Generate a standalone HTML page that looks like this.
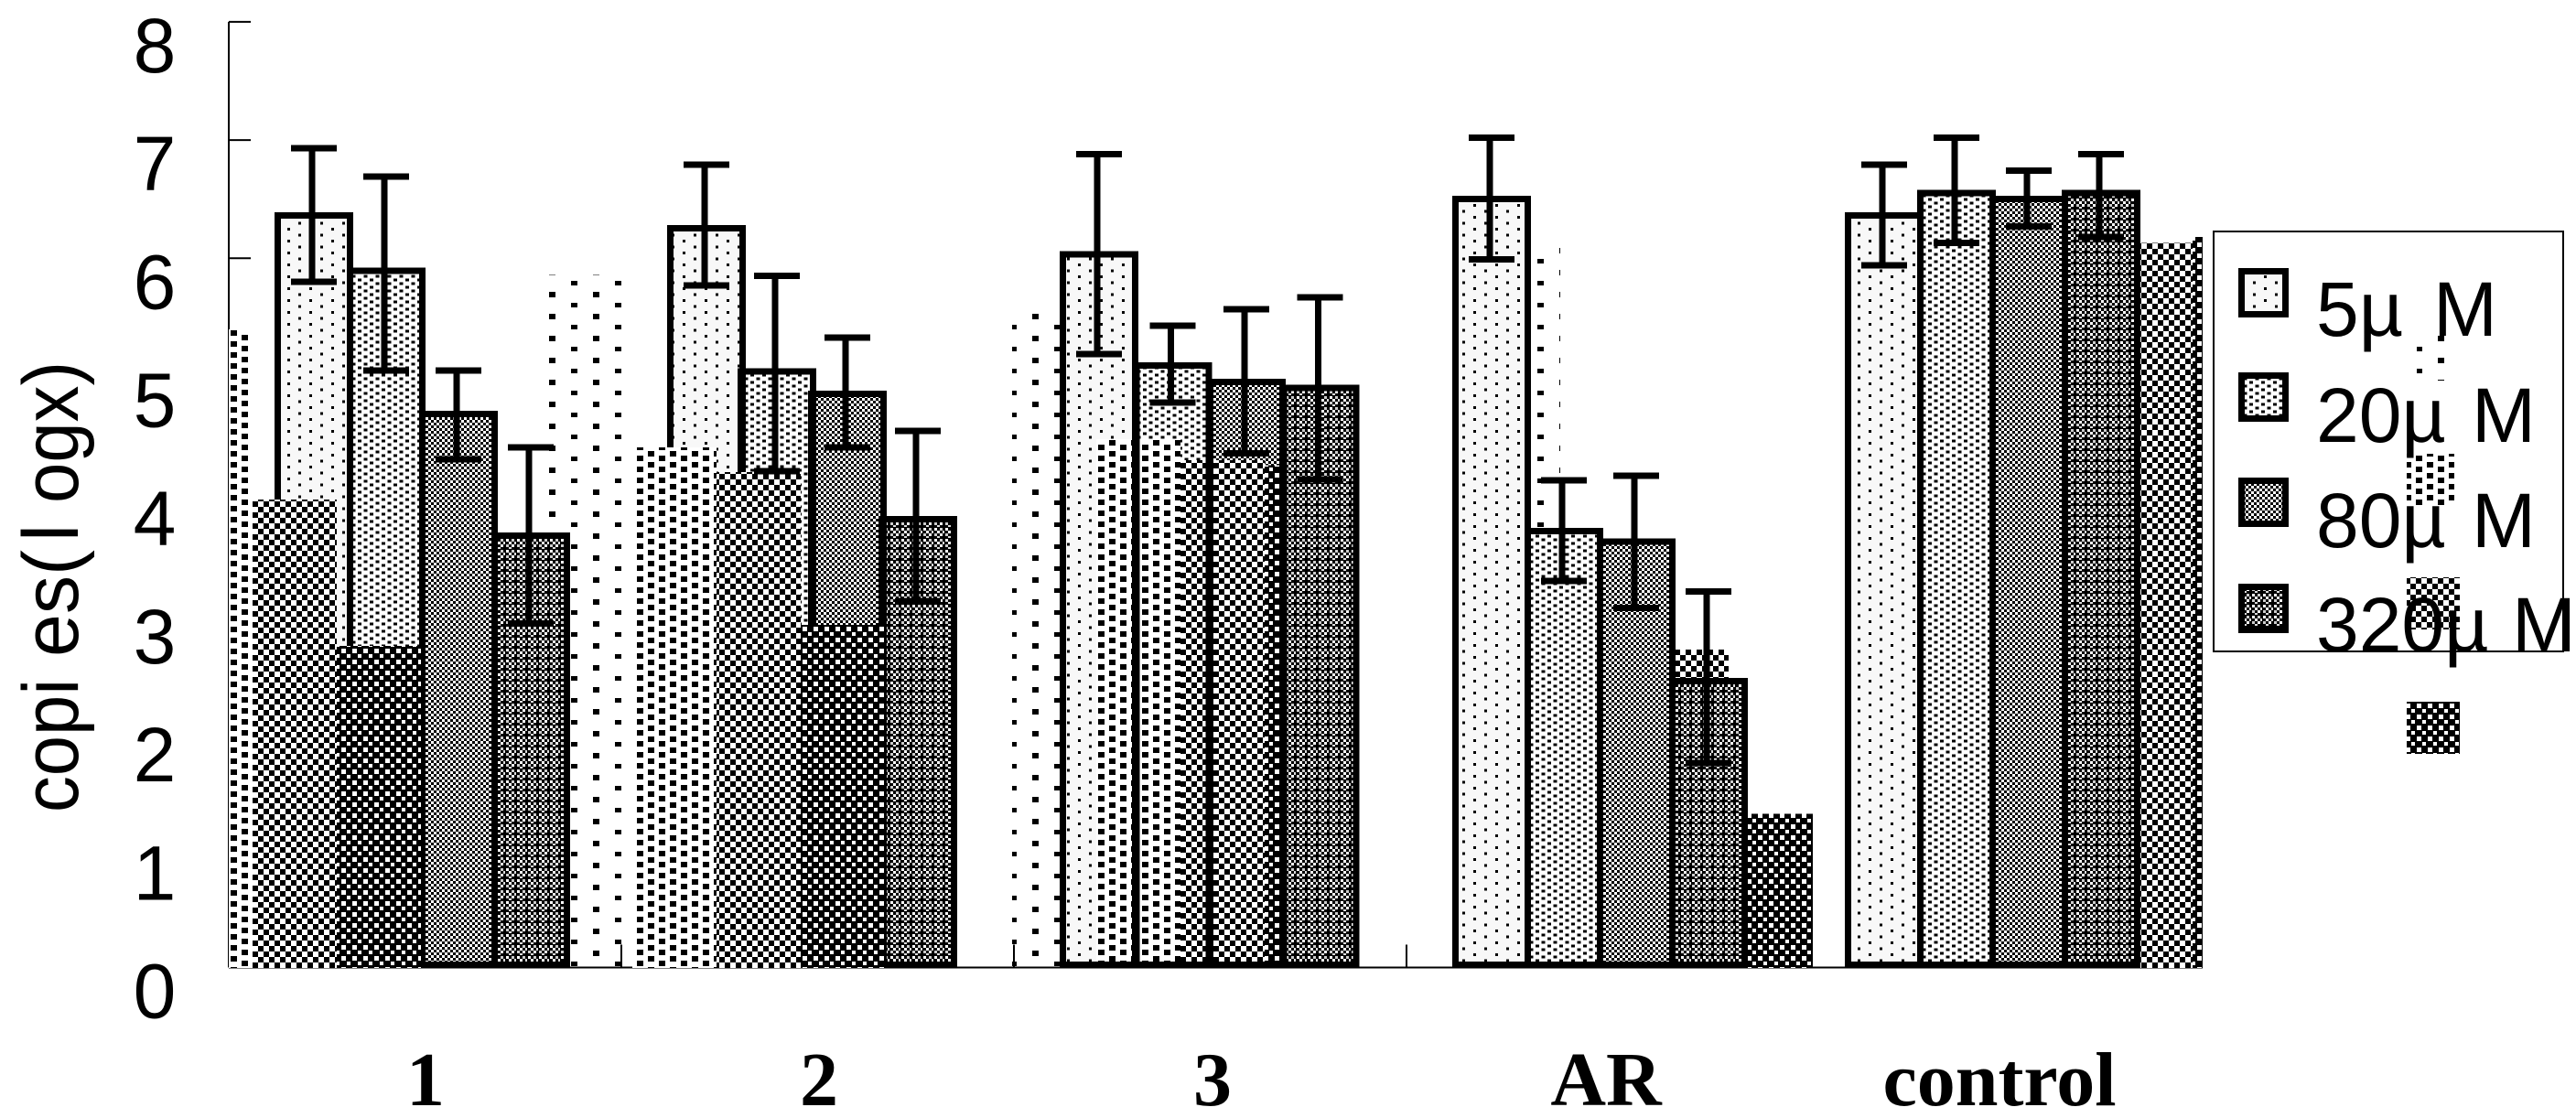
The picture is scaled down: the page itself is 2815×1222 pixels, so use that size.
<!DOCTYPE html>
<html lang="en">
<head>
<meta charset="utf-8">
<title>Copies (log x) by compound and concentration</title>
<style>
html,body{margin:0;padding:0;background:#fff;}
svg{display:block;}
text{fill:#000;}
.sans{font-family:"Liberation Sans","DejaVu Sans",sans-serif;font-size:84px;}
.serif{font-family:"Liberation Serif","DejaVu Serif",serif;font-size:84px;font-weight:bold;}
</style>
</head>
<body>
<svg id="chart" xmlns="http://www.w3.org/2000/svg" width="2815" height="1222" viewBox="0 0 2815 1222">
<defs>
<pattern id="p-outline-a" patternUnits="userSpaceOnUse" width="24" height="13"><rect width="24" height="13" fill="#f8f8f8"/><rect x="2" y="2" width="3" height="3" fill="#000"/><rect x="14" y="8.5" width="3" height="3" fill="#000"/></pattern>
<pattern id="p-outline-b" patternUnits="userSpaceOnUse" width="13" height="8"><rect width="13" height="8" fill="#fff"/><rect x="1" y="0.5" width="4" height="3" fill="#000"/><rect x="7.5" y="4.5" width="4" height="3" fill="#000"/></pattern>
<pattern id="p-outline-c" patternUnits="userSpaceOnUse" width="6" height="6"><rect width="6" height="6" fill="#fff"/><rect width="3" height="3" fill="#000"/><rect x="3" y="3" width="3" height="3" fill="#000"/></pattern>
<pattern id="p-outline-d" patternUnits="userSpaceOnUse" width="12" height="12"><rect width="12" height="12" fill="#000"/><rect x="1" y="1" width="3" height="3" fill="#fff"/><rect x="7" y="1" width="3" height="3" fill="#ccc"/><rect x="4" y="4" width="3" height="3" fill="#fff"/><rect x="10" y="4" width="2" height="3" fill="#ddd"/><rect x="1" y="7" width="3" height="3" fill="#ccc"/><rect x="7" y="7" width="3" height="3" fill="#fff"/><rect x="4" y="10" width="3" height="2" fill="#ddd"/></pattern>
<pattern id="p-sparse" patternUnits="userSpaceOnUse" width="48" height="24"><rect x="24" y="7" width="7" height="6" fill="#000"/><rect x="0" y="19" width="7" height="5" fill="#000"/></pattern>
<pattern id="p-dense" patternUnits="userSpaceOnUse" width="24" height="12"><rect width="24" height="12" fill="#fff"/><rect x="0" y="6" width="7" height="6" fill="#000"/><rect x="12" y="1" width="7" height="6" fill="#000"/></pattern>
<pattern id="p-checker" patternUnits="userSpaceOnUse" width="12" height="12" patternTransform="translate(0,2)"><rect width="12" height="12" fill="#000"/><rect width="6" height="6" fill="#fff"/><rect x="6" y="6" width="6" height="6" fill="#fff"/></pattern>
<pattern id="p-dark" patternUnits="userSpaceOnUse" width="12" height="12"><rect width="12" height="12" fill="#000"/><rect x="1" y="1" width="5" height="5" fill="#fff"/><rect x="7" y="7" width="4" height="4" fill="#fff"/></pattern>
<clipPath id="plot-clip"><rect x="250" y="0" width="2157" height="1060"/></clipPath>
</defs>
<g id="axes-layer"></g>
<g id="bars-layer" shape-rendering="crispEdges"></g>
<g id="errors-layer" shape-rendering="crispEdges"></g>
<g id="labels-layer"></g>

<g>
  <text class="sans" style="font-size:86px" transform="translate(85,888) rotate(-90)" textLength="146" lengthAdjust="spacingAndGlyphs">copi</text>
  <text class="sans" style="font-size:86px" transform="translate(85,718) rotate(-90)" textLength="117" lengthAdjust="spacingAndGlyphs">es(</text>
  <text class="sans" style="font-size:86px" transform="translate(85,592) rotate(-90)">l</text>
  <text class="sans" style="font-size:86px" transform="translate(85,550) rotate(-90)" textLength="155" lengthAdjust="spacingAndGlyphs">ogx)</text>
</g>

<g>
  <rect x="2419" y="253" width="382" height="459" fill="#fff" stroke="#000" stroke-width="2"/>
  <g shape-rendering="crispEdges">
    <rect x="2449.5" y="296.5" width="48" height="47" fill="url(#p-outline-a)" stroke="#000" stroke-width="7"/>
    <rect x="2449.5" y="410.5" width="48" height="47" fill="url(#p-outline-b)" stroke="#000" stroke-width="7"/>
    <rect x="2449.5" y="525.5" width="48" height="47" fill="url(#p-outline-c)" stroke="#000" stroke-width="7"/>
    <rect x="2449.5" y="641.5" width="48" height="47" fill="url(#p-outline-d)" stroke="#000" stroke-width="7"/>
    <rect x="2641" y="360" width="30" height="56" fill="url(#p-sparse)"/>
    <rect x="2630" y="496" width="52" height="57" fill="url(#p-dense)"/>
    <rect x="2630" y="631" width="58" height="57" fill="url(#p-checker)"/>
    <rect x="2630" y="767" width="58" height="57" fill="url(#p-dark)"/>
  </g>
  <text class="sans" y="367"><tspan x="2531">5µ</tspan><tspan x="2659">M</tspan></text>
  <text class="sans" y="483"><tspan x="2531">20µ</tspan><tspan x="2701">M</tspan></text>
  <text class="sans" y="598"><tspan x="2531">80µ</tspan><tspan x="2701">M</tspan></text>
  <text class="sans" y="712"><tspan x="2531">320µ</tspan><tspan x="2745">M</tspan></text>
</g>
</svg>

<script>
// ---- chart data ----
const categories = ["1", "2", "3", "AR", "control"];
const yTickLabels = [0, 1, 2, 3, 4, 5, 6, 7, 8];
const concentrations = ["5um", "20um", "80um", "320um"];

// outlined series: mean copies per category
const mean5 = [6.39, 6.28, 6.06, 6.53, 6.39];
const mean20 = [5.92, 5.07, 5.12, 3.72, 6.58];
const mean80 = [4.71, 4.88, 4.98, 3.63, 6.53];
const mean320 = [3.68, 3.82, 4.93, 2.45, 6.58];

// error bar ends for outlined series
const upper5 = [6.93, 6.79, 6.88, 7.02, 6.79];
const upper20 = [6.69, 5.85, 5.43, 4.12, 7.02];
const upper80 = [5.05, 5.33, 5.57, 4.16, 6.74];
const upper320 = [4.40, 4.54, 5.67, 3.18, 6.88];
const lower5 = [5.80, 5.77, 5.19, 5.99, 5.94];
const lower20 = [5.05, 4.20, 4.78, 3.27, 6.13];
const lower80 = [4.30, 4.40, 4.35, 3.04, 6.27];
const lower320 = [2.91, 3.10, 4.13, 1.73, 6.18];

// borderless duplicate series
const alt5 = [5.00, 5.86, 5.57, 6.12, 5.50];
const alt20 = [5.40, 4.40, 4.47, 3.00, 5.50];
const alt80 = [3.96, 4.19, 4.29, 2.69, 6.13];
const alt320 = [2.72, 2.90, 4.25, 1.30, 6.18];

// ---- assembled series tables ----
const meanSeries = [mean5, mean20, mean80, mean320];
const upperSeries = [upper5, upper20, upper80, upper320];
const lowerSeries = [lower5, lower20, lower80, lower320];
const altSeries = [alt5, alt20, alt80, alt320];
const outlineFills = ["p-outline-a", "p-outline-b", "p-outline-c", "p-outline-d"];
const altFills = ["p-sparse", "p-dense", "p-checker", "p-dark"];

// ---- axis functions ----
function yScale(v) { return 1057.5 - v * 129.2; }
function slotPitch(g) { return g === 1 ? 77 : (g === 2 ? 80.5 : 79); }
function barLeft(g, s) { return 300 + g * 429 + s * slotPitch(g); }
function altLeft(g, s) { return 92 + g * 507 + s * 92; }
function labelCentre(g) { return 465 + g * 430; }
const BAR_W = 86, ALT_W = 92, BORDER = 7, CAP_W = 50, STEM_W = 7, CAP_H = 7;
const BASE_Y = yScale(0) + 0.5;

const NS = "http://www.w3.org/2000/svg";
const axes = document.getElementById("axes-layer");
const bars = document.getElementById("bars-layer");
const errs = document.getElementById("errors-layer");
const labels = document.getElementById("labels-layer");

// axes
const yAxisLine = document.createElementNS(NS, "line");
yAxisLine.setAttribute("x1", 250); yAxisLine.setAttribute("x2", 250);
yAxisLine.setAttribute("y1", yScale(8)); yAxisLine.setAttribute("y2", yScale(0));
yAxisLine.setAttribute("stroke", "#000"); yAxisLine.setAttribute("stroke-width", 2);


axes.appendChild(yAxisLine);

const xAxisLine = document.createElementNS(NS, "line");
xAxisLine.setAttribute("x1", 250); xAxisLine.setAttribute("x2", 2407);
xAxisLine.setAttribute("y1", yScale(0)); xAxisLine.setAttribute("y2", yScale(0));
xAxisLine.setAttribute("stroke", "#000"); xAxisLine.setAttribute("stroke-width", 2);


axes.appendChild(xAxisLine);

yTickLabels.forEach(function (v) {
  const tick = document.createElementNS(NS, "line");
  tick.setAttribute("x1", 250); tick.setAttribute("x2", 274);
  tick.setAttribute("y1", yScale(v)); tick.setAttribute("y2", yScale(v));
  tick.setAttribute("stroke", "#000"); tick.setAttribute("stroke-width", 2);
  
  
  axes.appendChild(tick);

  const label = document.createElementNS(NS, "text");
  label.setAttribute("class", "sans");
  label.setAttribute("x", 169);
  label.setAttribute("y", yScale(v) + 55);
  label.setAttribute("text-anchor", "middle");
  
  
  label.textContent = v;
  labels.appendChild(label);
});

categories.forEach(function (c, g) {
  const tick = document.createElementNS(NS, "line");
  const tx = 250 + (g + 1) * 429;
  tick.setAttribute("x1", tx); tick.setAttribute("x2", tx);
  tick.setAttribute("y1", yScale(0) - 25); tick.setAttribute("y2", yScale(0));
  tick.setAttribute("stroke", "#000"); tick.setAttribute("stroke-width", 2);
  
  
  axes.appendChild(tick);

  const label = document.createElementNS(NS, "text");
  label.setAttribute("class", "serif");
  label.setAttribute("x", labelCentre(g));
  label.setAttribute("y", 1208);
  label.setAttribute("text-anchor", "middle");
  
  
  label.textContent = c;
  labels.appendChild(label);
});

// bar drawing helpers
function drawAlt(g, s) {
  const top = yScale(altSeries[s][g]);
  const r = document.createElementNS(NS, "rect");
  r.setAttribute("x", altLeft(g, s));
  r.setAttribute("y", top);
  r.setAttribute("width", ALT_W);
  r.setAttribute("height", BASE_Y - top);
  r.setAttribute("fill", "url(#" + altFills[s] + ")");
  r.setAttribute("clip-path", "url(#plot-clip)");
  
  
  bars.appendChild(r);
}
function drawInterior(g, s) {
  const top = yScale(meanSeries[s][g]);
  const r = document.createElementNS(NS, "rect");
  r.setAttribute("x", barLeft(g, s));
  r.setAttribute("y", top);
  r.setAttribute("width", BAR_W);
  r.setAttribute("height", BASE_Y - top);
  r.setAttribute("fill", "url(#" + outlineFills[s] + ")");
  
  
  bars.appendChild(r);
}
function drawBorder(g, s) {
  const top = yScale(meanSeries[s][g]);
  const r = document.createElementNS(NS, "rect");
  r.setAttribute("x", barLeft(g, s) + BORDER / 2);
  r.setAttribute("y", top + BORDER / 2);
  r.setAttribute("width", BAR_W - BORDER);
  r.setAttribute("height", BASE_Y - top - BORDER);
  r.setAttribute("fill", "none");
  r.setAttribute("stroke", "#000");
  r.setAttribute("stroke-width", BORDER);
  
  
  bars.appendChild(r);
}
function eachCell(fn, groups, seriesList) {
  groups.forEach(function (g) { seriesList.forEach(function (s) { fn(g, s); }); });
}
const allGroups = categories.map(function (c, i) { return i; });
const allSeries = concentrations.map(function (c, i) { return i; });

// stacking order observed in the figure
eachCell(drawAlt, allGroups, [0]);
eachCell(drawAlt, [3, 4], [1, 2, 3]);
eachCell(drawInterior, allGroups, allSeries);
eachCell(drawAlt, [2], [1, 2, 3]);
eachCell(drawBorder, allGroups, allSeries);
// the last bar in the third group stays in front
drawInterior(2, 3);
drawBorder(2, 3);
eachCell(drawAlt, [0, 1], [1, 2, 3]);

// error bars
allGroups.forEach(function (g) {
  allSeries.forEach(function (s) {
    const yUp = yScale(upperSeries[s][g]);
    const yLo = yScale(lowerSeries[s][g]);
    const cx = barLeft(g, s) + BAR_W / 2;

    const stem = document.createElementNS(NS, "rect");
    stem.setAttribute("x", cx - 2 - STEM_W / 2);
    stem.setAttribute("y", yUp);
    stem.setAttribute("width", STEM_W);
    stem.setAttribute("height", yLo - yUp);
    
    
    errs.appendChild(stem);

    const capTop = document.createElementNS(NS, "rect");
    capTop.setAttribute("x", cx - CAP_W / 2);
    capTop.setAttribute("y", yUp - CAP_H / 2);
    capTop.setAttribute("width", CAP_W);
    capTop.setAttribute("height", CAP_H);
    
    
    errs.appendChild(capTop);

    const capBottom = document.createElementNS(NS, "rect");
    capBottom.setAttribute("x", cx - CAP_W / 2);
    capBottom.setAttribute("y", yLo - CAP_H / 2);
    capBottom.setAttribute("width", CAP_W);
    capBottom.setAttribute("height", CAP_H);
    
    
    errs.appendChild(capBottom);
  });
});
</script>
</body>
</html>
